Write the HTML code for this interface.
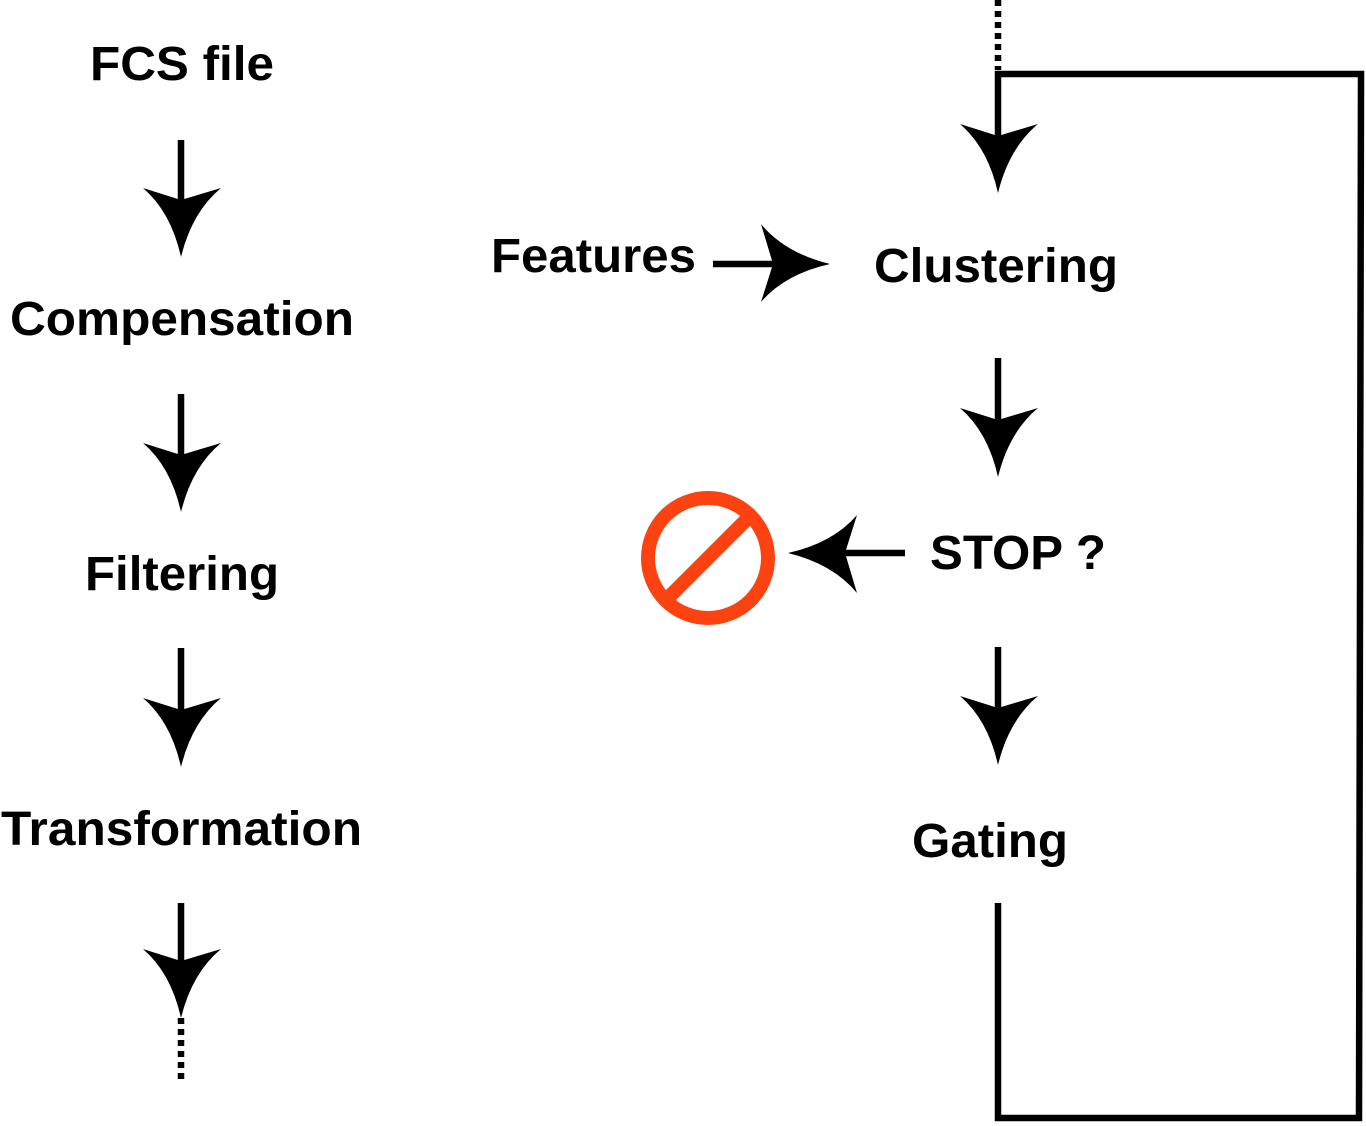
<!DOCTYPE html>
<html><head><style>html,body{margin:0;padding:0;background:#fff;}svg{display:block}</style></head>
<body>
<svg width="1366" height="1126" viewBox="0 0 1366 1126" xmlns="http://www.w3.org/2000/svg">
<defs>
<path id="ah" d="M0,0 Q-10,-45 -38,-69 L0,-57 L40,-69 Q11,-45 0,0 Z" fill="#000"/>
</defs>
<g font-family="Liberation Sans, Arial, sans-serif" font-weight="bold" font-size="48" fill="#000">
<text x="90" y="80" textLength="184" lengthAdjust="spacingAndGlyphs">FCS file</text>
<text x="10" y="335" textLength="344" lengthAdjust="spacingAndGlyphs">Compensation</text>
<text x="85" y="590" textLength="194" lengthAdjust="spacingAndGlyphs">Filtering</text>
<text x="1" y="845" textLength="361" lengthAdjust="spacingAndGlyphs">Transformation</text>
<text x="491" y="272" textLength="205" lengthAdjust="spacingAndGlyphs">Features</text>
<text x="874" y="282" textLength="244" lengthAdjust="spacingAndGlyphs">Clustering</text>
<text x="930" y="569" textLength="176" lengthAdjust="spacingAndGlyphs">STOP ?</text>
<text x="912" y="857" textLength="156" lengthAdjust="spacingAndGlyphs">Gating</text>
</g>
<g stroke="#000" stroke-width="6.5" fill="none">
<line x1="181" y1="140" x2="181" y2="210"/>
<line x1="181" y1="394" x2="181" y2="465"/>
<line x1="181" y1="648" x2="181" y2="720"/>
<line x1="181" y1="903" x2="181" y2="975"/>
<line x1="181" y1="1018" x2="181" y2="1080" stroke-dasharray="6,5"/>
<line x1="998" y1="0" x2="998" y2="70" stroke-dasharray="6,5"/>
<polyline points="998,150 998,74 1361,74 1359,1118 998,1118 998,903"/>
<line x1="998" y1="358" x2="998" y2="430"/>
<line x1="998" y1="647" x2="998" y2="720"/>
<line x1="713" y1="264" x2="780" y2="264"/>
<line x1="838" y1="553" x2="905" y2="553"/>
</g>
<use href="#ah" transform="translate(181,257)"/>
<use href="#ah" transform="translate(181,512)"/>
<use href="#ah" transform="translate(181,767)"/>
<use href="#ah" transform="translate(181,1018)"/>
<use href="#ah" transform="translate(998,193)"/>
<use href="#ah" transform="translate(998,477)"/>
<use href="#ah" transform="translate(998,765)"/>
<use href="#ah" transform="translate(830,264) rotate(-90)"/>
<use href="#ah" transform="translate(788,553) rotate(90)"/>
<circle cx="708" cy="558" r="60" fill="none" stroke="#fc4211" stroke-width="14"/>
<line x1="748" y1="518" x2="668" y2="598" stroke="#fc4211" stroke-width="14"/>
</svg>
</body></html>
